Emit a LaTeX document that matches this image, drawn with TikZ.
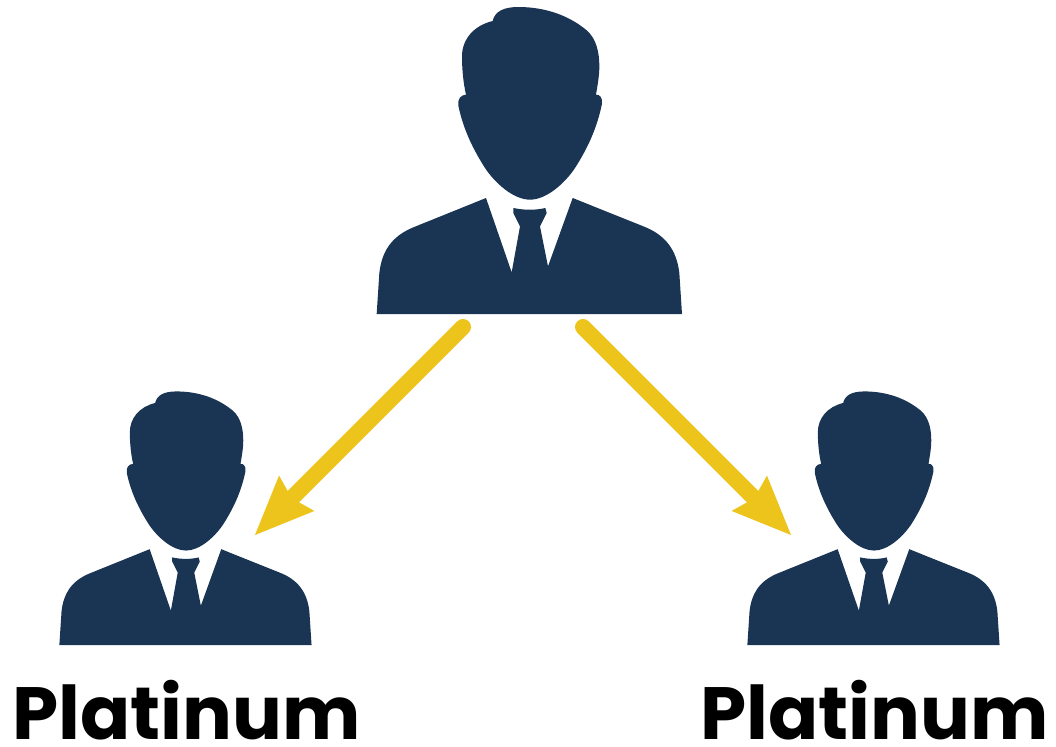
\documentclass[tikz,border=0pt]{standalone}
\usepackage{fontspec}
\setmainfont{Poppins}
\usetikzlibrary{arrows.meta}
\definecolor{navy}{HTML}{1A3454}
\definecolor{gold}{HTML}{EDC41C}
\tikzset{
  person/.pic={
    \begin{scope}[xscale=1/3,yscale=1/3,shift={(-480,-943)}]
    % head and hair
    \fill[navy] (368,64) .. controls (374,36) and (400,22) .. (445,22)
      .. controls (530,22) and (600,50) .. (650,92)
      .. controls (680,118) and (688,160) .. (688,200)
      .. controls (688,230) and (682,260) .. (678,285)
      .. controls (690,284) and (698,295) .. (696,312)
      .. controls (680,390) and (650,450) .. (615,505)
      .. controls (585,550) and (530,600) .. (480,600)
      .. controls (430,600) and (375,550) .. (345,505)
      .. controls (310,450) and (280,390) .. (265,318)
      .. controls (262,298) and (272,286) .. (288,285)
      .. controls (280,250) and (276,210) .. (276,170)
      .. controls (276,120) and (310,78) .. (368,64) -- cycle;
    % suit and tie
    \fill[navy] (348,595) -- (130,683)
      .. controls (60,712) and (35,760) .. (28,820)
      -- (20,943) -- (936,943) -- (928,820)
      .. controls (920,750) and (885,705) .. (820,680)
      -- (608,595) -- (534,800) -- (510,680)
      -- (530,640) -- (526,625)
      .. controls (495,632) and (465,632) .. (430,625)
      -- (430,640) -- (450,680) -- (425,818) -- cycle;
    \end{scope}
  },
  flow/.style={draw=gold,line width=16pt,line cap=round,
    -{Stealth[length=59pt,width=50pt,inset=7pt,line width=0pt,fill=gold]}},
  caption/.style={font=\fontsize{74}{74}\selectfont\bfseries,text=black,inner sep=0pt,anchor=base}
}
\begin{document}
\begin{tikzpicture}[x=1pt,y=-1pt]
\useasboundingbox[fill=white] (0,0) rectangle (1056,746);
\pic at (530,314) {person};
\pic[scale=.826] at (186,645) {person};
\pic[scale=.826] at (874,645) {person};
\coordinate (startL) at (463,327);
\coordinate (tipL) at (255,535);
\coordinate (startR) at (583,327);
\coordinate (tipR) at (791,535);
\draw[flow] (startL) -- (tipL);
\draw[flow] (startR) -- (tipR);
\node[caption] (labelL) at (186.5,739) {Platinum};
\node[caption] (labelR) at (874.5,739) {Platinum};
\end{tikzpicture}
\end{document}
